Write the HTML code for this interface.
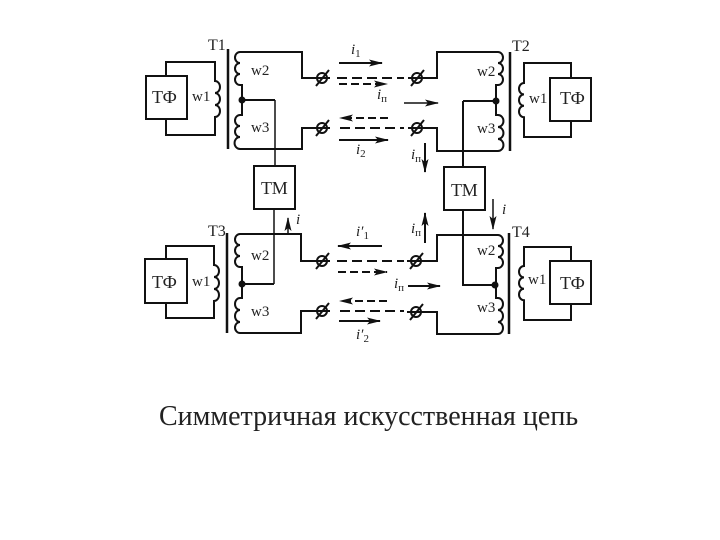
<!DOCTYPE html>
<html><head><meta charset="utf-8"><style>
html,body{margin:0;padding:0;background:#fff}
svg{display:block}
text{font-family:"Liberation Serif",serif;fill:#222}
.l{font-size:15px}
.b{font-size:18px}
.t{font-size:16px}
.i{font-size:15px;font-style:italic}
.s{font-size:11px;font-style:normal}
</style></head><body>
<svg width="720" height="540" viewBox="0 0 720 540" xmlns="http://www.w3.org/2000/svg">
<defs>
<marker id="a" markerWidth="14" markerHeight="8" refX="13" refY="4" orient="auto" markerUnits="userSpaceOnUse"><path d="M0,0.5 L14,4 L0,7.5 L3,4z" fill="#111"/></marker>
</defs>
<g fill="none" stroke="#111" stroke-width="2">
<!-- T1 -->
<path d="M228,49V149" stroke-width="2.5"/>
<rect x="146" y="76" width="41" height="43"/>
<path d="M166,76V62H215V81a5,6 0 0 1 0,12a5,6 0 0 1 0,12a5,6 0 0 1 0,12V135H166V119"/>
<path d="M317,78H302V52H240a5,5.5 0 0 0 0,11a5,5.5 0 0 0 0,11a5,5.5 0 0 0 0,11H242V115H240a5,5.5 0 0 0 0,11a5,5.5 0 0 0 0,11a5,5.5 0 0 0 0,12H302V128H317"/>
<path d="M242,100H275"/><path d="M275,100V166" stroke-width="1.5"/>
<rect x="254" y="166" width="41" height="43"/>
<!-- T2 -->
<path d="M510,52V151" stroke-width="2.5"/>
<rect x="550" y="78" width="41" height="43"/>
<path d="M571,78V63H524V83a5,5.7 0 0 0 0,11.4a5,5.7 0 0 0 0,11.4a5,5.7 0 0 0 0,11.4V137H571V121"/>
<path d="M424,78H437V52H498a5,5.5 0 0 1 0,11a5,5.5 0 0 1 0,11a5,5.5 0 0 1 0,11H496V115H498a5,5.5 0 0 1 0,12a5,5.5 0 0 1 0,12a5,5.5 0 0 1 0,12H437V128H424"/>
<path d="M496,101H463"/><path d="M463,101V167"/>
<rect x="444" y="167" width="41" height="43"/>
<!-- T3 -->
<path d="M227,233V333" stroke-width="2.5"/>
<rect x="145" y="259" width="42" height="44"/>
<path d="M166,259V246H214V265a5,6 0 0 1 0,12a5,6 0 0 1 0,12a5,6 0 0 1 0,12V318H166V303"/>
<path d="M317,261H301V234H240a5,5.5 0 0 0 0,11a5,5.5 0 0 0 0,11a5,5.5 0 0 0 0,11H242V298H240a5,6 0 0 0 0,12a5,6 0 0 0 0,12a5,5.5 0 0 0 0,11H301V311H317"/>
<path d="M274,209V284" stroke-width="1.5"/><path d="M274,284H242"/>
<!-- T4 -->
<path d="M509,233V334" stroke-width="2.5"/>
<rect x="550" y="261" width="41" height="43"/>
<path d="M571,261V247H524V266a5,5.7 0 0 0 0,11.4a5,5.7 0 0 0 0,11.4a5,5.7 0 0 0 0,11.4V320H571V304"/>
<path d="M423,261H437V235H498a5,5.5 0 0 1 0,11a5,5.5 0 0 1 0,11a5,5.5 0 0 1 0,11H496V298H498a5,6 0 0 1 0,12a5,6 0 0 1 0,12a5,6 0 0 1 0,12H437V312H423"/>
<path d="M463,210V285H495"/>
<!-- terminals -->
<g stroke-width="2">
<circle cx="322" cy="78" r="5"/><path d="M316,86L329,70M312,78H330"/>
<circle cx="322" cy="128" r="5"/><path d="M316,136L329,120M312,128H330"/>
<circle cx="417" cy="78" r="5"/><path d="M411,86L424,70M408,78H426"/>
<circle cx="417" cy="128" r="5"/><path d="M411,136L424,120M408,128H426"/>
<circle cx="322" cy="261" r="5"/><path d="M316,269L329,253M312,261H330"/>
<circle cx="322" cy="311" r="5"/><path d="M316,319L329,303M312,311H330"/>
<circle cx="416" cy="261" r="5"/><path d="M410,269L423,253M407,261H425"/>
<circle cx="416" cy="312" r="5"/><path d="M410,320L423,304M407,312H425"/>
</g>
<!-- dashed lines -->
<g stroke-dasharray="10 5">
<path d="M337,78H404"/><path d="M340,128H404"/><path d="M337,261H404"/><path d="M340,311H404"/>
</g>
<!-- arrows -->
<path d="M339,63H382" marker-end="url(#a)"/>
<path d="M339,84H387" stroke-dasharray="8 4" marker-end="url(#a)"/>
<path d="M404,103H438" stroke-width="1.5" marker-end="url(#a)"/>
<path d="M388,118H340" stroke-dasharray="8 4" marker-end="url(#a)"/>
<path d="M339,140H388" marker-end="url(#a)"/>
<path d="M425,143V172" marker-end="url(#a)"/>
<path d="M382,246H338" marker-end="url(#a)"/>
<path d="M338,272H387" stroke-dasharray="8 4" marker-end="url(#a)"/>
<path d="M408,286H440" marker-end="url(#a)"/>
<path d="M387,301H340" stroke-dasharray="8 4" marker-end="url(#a)"/>
<path d="M339,321H380" marker-end="url(#a)"/>
<path d="M425,243V213" marker-end="url(#a)"/>
<path d="M288,234V218" stroke-width="1.5" marker-end="url(#a)"/>
<path d="M493,199V229" stroke-width="1.5" marker-end="url(#a)"/>
</g>
<g fill="#111">
<circle cx="242" cy="100" r="3.5"/><circle cx="496" cy="101" r="3.5"/>
<circle cx="242" cy="284" r="3.5"/><circle cx="495" cy="285" r="3.5"/>
</g>
<text class="t" x="208" y="50">T1</text>
<text class="t" x="512" y="51">T2</text>
<text class="t" x="208" y="236">T3</text>
<text class="t" x="512" y="237">T4</text>
<text class="b" x="152" y="103">ТФ</text>
<text class="b" x="560" y="104">ТФ</text>
<text class="b" x="152" y="288">ТФ</text>
<text class="b" x="560" y="289">ТФ</text>
<text class="b" x="261" y="194">ТМ</text>
<text class="b" x="451" y="196">ТМ</text>
<text class="l" x="192" y="101">w1</text>
<text class="l" x="529" y="103">w1</text>
<text class="l" x="192" y="286">w1</text>
<text class="l" x="528" y="284">w1</text>
<text class="l" x="251" y="75">w2</text>
<text class="l" x="251" y="132">w3</text>
<text class="l" x="477" y="76">w2</text>
<text class="l" x="477" y="133">w3</text>
<text class="l" x="251" y="260">w2</text>
<text class="l" x="251" y="316">w3</text>
<text class="l" x="477" y="255">w2</text>
<text class="l" x="477" y="312">w3</text>
<text class="i" x="351" y="54">i<tspan class="s" dy="3">1</tspan></text>
<text class="i" x="377" y="99">i<tspan class="s" dy="3">п</tspan></text>
<text class="i" x="356" y="154">i<tspan class="s" dy="3">2</tspan></text>
<text class="i" x="411" y="159">i<tspan class="s" dy="3">п</tspan></text>
<text class="i" x="356" y="236">i′<tspan class="s" dy="3">1</tspan></text>
<text class="i" x="411" y="233">i<tspan class="s" dy="3">п</tspan></text>
<text class="i" x="394" y="288">i<tspan class="s" dy="3">п</tspan></text>
<text class="i" x="356" y="339">i′<tspan class="s" dy="3">2</tspan></text>
<text class="i" x="296" y="224">i</text>
<text class="i" x="502" y="214">i</text>
<text x="159" y="425" style="font-size:28px">Симметричная искусственная цепь</text>
</svg>
</body></html>
